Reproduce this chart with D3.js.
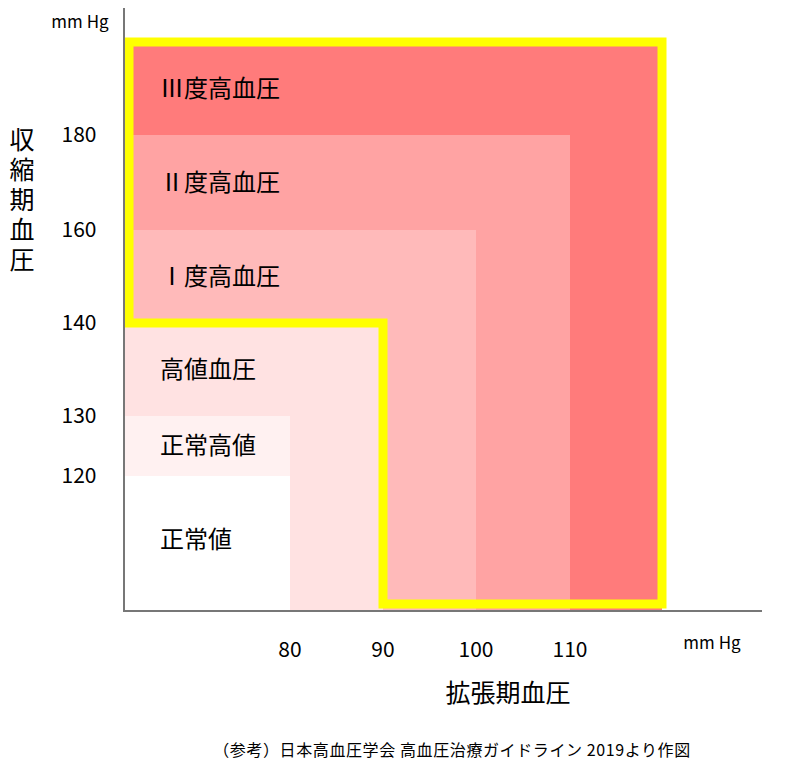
<!DOCTYPE html>
<html><head><meta charset="utf-8">
<script src="https://cdn.jsdelivr.net/npm/d3@7"></script>
<style>body{margin:0;background:#fff}text{font-family:"Noto Sans CJK JP",sans-serif}</style>
</head><body><div id="app"></div>
<script>
const width = 791, height = 770;

// 区分（外側から）: 収縮期の下限・拡張期の下限
const categories = ["Ⅲ度高血圧", "Ⅱ度高血圧", "Ⅰ度高血圧", "高値血圧", "正常高値", "正常値"];
const sysLimit = [200, 180, 160, 140, 130, 120];
const diaLimit = [120, 110, 100, 90, 80, 80];
const fills = ["#ff7b7b", "#ffa3a3", "#ffbaba", "#ffe2e2", "#fff1f1", "#ffffff"];
const labelSys = [190, 170, 150, 135, 125, 110];
const xTicks = [80, 90, 100, 110];
const yTicks = [120, 130, 140, 160, 180];

// 目盛り間隔が不均等なので区分線形スケール
const x = d3.scaleLinear()
  .domain([62, 80, 90, 100, 110, 120, 130])
  .range([124, 290, 383, 476, 570, 662, 762]);
const y = d3.scaleLinear()
  .domain([95, 100, 120, 130, 140, 160, 180, 200])
  .range([611, 604, 476, 416, 323, 230, 135, 42]);

const svg = d3.select("#app").append("svg")
  .attr("width", width).attr("height", height);

// 領域（入れ子の長方形）
svg.selectAll("rect.zone")
  .data(categories)
  .join("rect")
  .attr("class", "zone")
  .attr("x", x(62))
  .attr("y", (d, i) => y(sysLimit[i]))
  .attr("width", (d, i) => x(diaLimit[i]) - x(62))
  .attr("height", (d, i) => y(95) - y(sysLimit[i]))
  .attr("fill", (d, i) => fills[i]);

// 高血圧の黄色い枠
const outline = [[62, 200], [120, 200], [120, 100], [90, 100], [90, 140], [62, 140]];
svg.append("path")
  .attr("d", d3.line().x((d, i) => x(d[0]) + (i === 0 || i === 5 ? 5 : 0)).y(d => y(d[1]))(outline) + "Z")
  .attr("fill", "none")
  .attr("stroke", "#ffff00")
  .attr("stroke-width", 9)
  .attr("stroke-linejoin", "miter");

// ラベル
svg.selectAll("text.lbl")
  .data(categories)
  .join("text")
  .attr("class", "lbl")
  .attr("x", 160)
  .attr("y", (d, i) => y(labelSys[i]))
  .attr("dy", "0.35em")
  .attr("font-size", 24)
  .text(d => d);

// 軸
svg.append("line").attr("x1", x(62)).attr("x2", x(62)).attr("y1", 8).attr("y2", y(95) + 1)
  .attr("stroke", "#777").attr("stroke-width", 2);
svg.append("line").attr("x1", x(62) - 1).attr("x2", x(130)).attr("y1", y(95)).attr("y2", y(95))
  .attr("stroke", "#777").attr("stroke-width", 2);

svg.selectAll("text.xt").data(xTicks).join("text")
  .attr("class", "xt").attr("x", d => x(d)).attr("y", 657)
  .attr("text-anchor", "middle").attr("font-size", 21).attr("font-family", "DejaVu Sans Condensed")
  .text(d => d);
svg.selectAll("text.yt").data(yTicks).join("text")
  .attr("class", "yt").attr("x", 79).attr("y", d => y(d)).attr("dy", "0.35em")
  .attr("text-anchor", "middle").attr("font-size", 21).attr("font-family", "DejaVu Sans Condensed")
  .text(d => d);

svg.append("text").attr("x", 80).attr("y", 28).attr("text-anchor", "middle")
  .attr("font-size", 17).attr("font-family", "DejaVu Sans Condensed").text("mm Hg");
svg.append("text").attr("x", 712).attr("y", 649).attr("text-anchor", "middle")
  .attr("font-size", 17).attr("font-family", "DejaVu Sans Condensed").text("mm Hg");

// 軸タイトル（縦書き）
svg.selectAll("text.ytitle").data(Array.from("収縮期血圧")).join("text")
  .attr("class", "ytitle")
  .attr("x", 22).attr("y", (d, i) => 140 + i * 30).attr("dy", "0.35em")
  .attr("font-size", 25).attr("text-anchor", "middle").text(d => d);
svg.append("text").attr("x", 508).attr("y", 702).attr("text-anchor", "middle")
  .attr("font-size", 25).text("拡張期血圧");

svg.append("text").attr("x", 452).attr("y", 756).attr("text-anchor", "middle")
  .attr("font-size", 16).attr("letter-spacing", 0.6)
  .text("（参考）日本高血圧学会 高血圧治療ガイドライン 2019より作図");
</script></body></html>
